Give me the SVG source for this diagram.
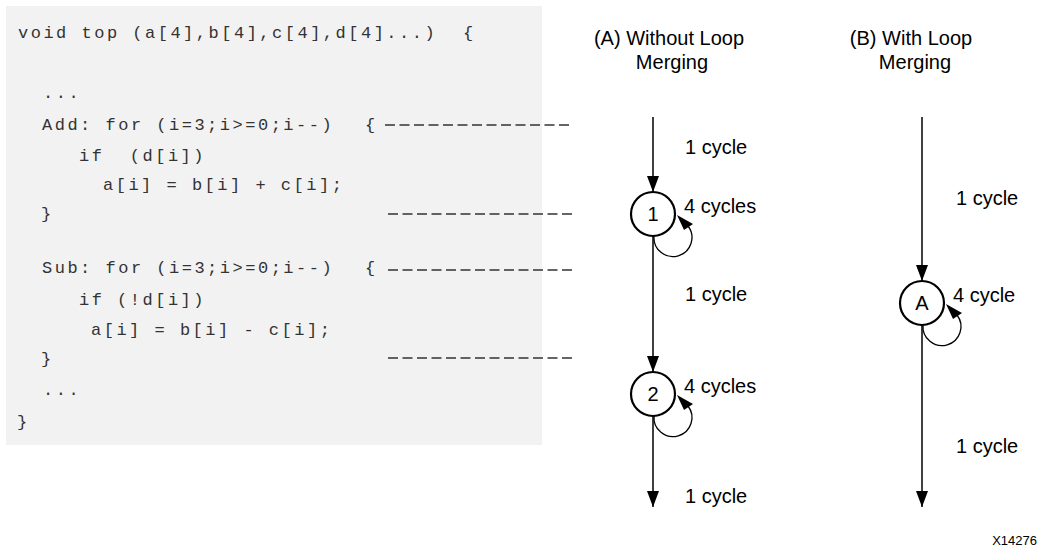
<svg xmlns="http://www.w3.org/2000/svg" width="1047" height="552" viewBox="0 0 1047 552">
<style>
.code{font-family:"Liberation Mono","Courier New",monospace;font-size:17px;letter-spacing:2.5px;fill:#333;white-space:pre}
.lbl{font-family:"Liberation Sans",Arial,sans-serif;font-size:20px;fill:#000}
.ttl{font-family:"Liberation Sans",Arial,sans-serif;font-size:20px;fill:#000;text-anchor:middle}
.dash{stroke:#333;stroke-width:1.3;stroke-dasharray:10 4.5;fill:none}
.edge{stroke:#000;stroke-width:1.5;fill:none}
.node circle{fill:#fff;stroke:#000;stroke-width:2.2}
.node text{font-family:"Liberation Sans",Arial,sans-serif;font-size:20px;text-anchor:middle;fill:#000}
.loop{stroke:#000;stroke-width:1.3;fill:none}
</style>
<defs>
<marker id="arr" viewBox="0 0 16 12" refX="16" refY="6" markerWidth="16" markerHeight="12" markerUnits="userSpaceOnUse" orient="auto">
<path d="M0 0 L16 6 L0 12 Z" fill="#000"/>
</marker>
<path id="loopHead" d="M24 1 L40 10 L31 16 Z" fill="#000"/>
<path id="loopArc" d="M1 22 A19 19 0 1 0 35 12" class="loop"/>
</defs>

<g id="code-panel">
<rect x="6" y="6" width="536" height="439" fill="#f2f2f2"/>
<text class="code" x="18" y="38" xml:space="preserve">void top (a[4],b[4],c[4],d[4]...)</text>
<text class="code" x="463" y="38">{</text>
<text class="code" x="43" y="98">...</text>
<text class="code" x="42" y="130">Add: for (i=3;i&gt;=0;i--)</text>
<text class="code" x="365" y="130">{</text>
<text class="code" x="79" y="161" xml:space="preserve">if  (d[i])</text>
<text class="code" x="103" y="190">a[i] = b[i] + c[i];</text>
<text class="code" x="41" y="219">}</text>
<text class="code" x="42" y="273">Sub: for (i=3;i&gt;=0;i--)</text>
<text class="code" x="365" y="273">{</text>
<text class="code" x="79" y="305">if (!d[i])</text>
<text class="code" x="91" y="335">a[i] = b[i] - c[i];</text>
<text class="code" x="41" y="364">}</text>
<text class="code" x="43" y="395">...</text>
<text class="code" x="17" y="427">}</text>
</g>

<g id="connectors">
<line class="dash" x1="385" y1="125" x2="572" y2="125"/>
<line class="dash" x1="388" y1="214" x2="572" y2="214"/>
<line class="dash" x1="388" y1="270" x2="572" y2="270"/>
<line class="dash" x1="388" y1="358" x2="572" y2="358"/>

<line class="edge" x1="653" y1="117" x2="653" y2="192" marker-end="url(#arr)"/>
<line class="edge" x1="653" y1="236" x2="653" y2="372" marker-end="url(#arr)"/>
<line class="edge" x1="653" y1="416" x2="653" y2="507" marker-end="url(#arr)"/>
<use href="#loopArc" transform="translate(653 214)"/>
<use href="#loopHead" transform="translate(653 214)"/>
<use href="#loopArc" transform="translate(653 394)"/>
<use href="#loopHead" transform="translate(653 394)"/>

<line class="edge" x1="922" y1="117" x2="922" y2="281" marker-end="url(#arr)"/>
<line class="edge" x1="922" y1="325" x2="922" y2="507" marker-end="url(#arr)"/>
<use href="#loopArc" transform="translate(922 303)"/>
<use href="#loopHead" transform="translate(922 303)"/>
</g>

<g id="node-1" class="node">
<circle cx="653" cy="214" r="22"/>
<text x="653" y="221">1</text>
</g>
<g id="node-2" class="node">
<circle cx="653" cy="394" r="22"/>
<text x="653" y="401">2</text>
</g>
<g id="node-A" class="node">
<circle cx="922" cy="303" r="22"/>
<text x="922" y="310">A</text>
</g>

<g id="labels">
<text class="ttl" x="669" y="45">(A) Without Loop</text>
<text class="ttl" x="672" y="69">Merging</text>
<text class="ttl" x="911" y="45">(B) With Loop</text>
<text class="ttl" x="915" y="69">Merging</text>
<text class="lbl" x="685" y="154">1 cycle</text>
<text class="lbl" x="684" y="213">4 cycles</text>
<text class="lbl" x="685" y="301">1 cycle</text>
<text class="lbl" x="684" y="393">4 cycles</text>
<text class="lbl" x="685" y="503">1 cycle</text>
<text class="lbl" x="956" y="205">1 cycle</text>
<text class="lbl" x="953" y="302">4 cycle</text>
<text class="lbl" x="956" y="453">1 cycle</text>
<text x="1037" y="545" font-family="Liberation Sans,Arial,sans-serif" font-size="13" text-anchor="end" fill="#000">X14276</text>
</g>
</svg>
